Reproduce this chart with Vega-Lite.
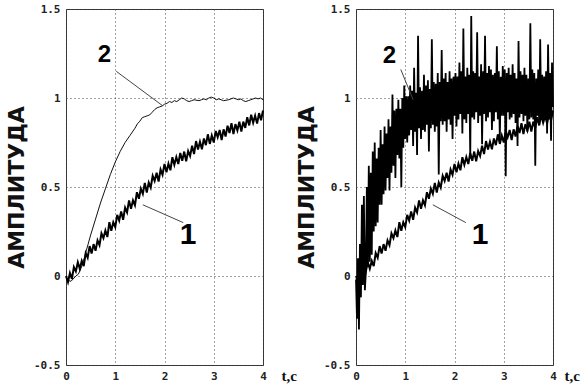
{
  "$schema": "https://vega.github.io/schema/vega-lite/v6.json",
  "background": "white",
  "padding": {"left": 5, "top": 2, "right": 0, "bottom": 0},
  "bounds": "flush",
  "spacing": 93,
  "config": {
    "view": {"stroke": "#333", "strokeWidth": 1},
    "axis": {
      "grid": true, "gridColor": "#444", "gridDash": [1, 3], "gridWidth": 1,
      "domain": false, "ticks": false,
      "labelFont": "DejaVu Sans Mono", "labelFontWeight": "bold", "labelFontSize": 11, "labelColor": "#222",
      "labelFlush": false, "labelOverlap": false
    }
  },
  "datasets": {
    "c1": [
      {"t":0.00,"v":0.000},{"t":0.04,"v":-0.034},{"t":0.08,"v":0.017},{"t":0.12,"v":-0.016},{"t":0.16,"v":0.050},
      {"t":0.20,"v":0.026},{"t":0.24,"v":0.077},{"t":0.28,"v":0.041},{"t":0.32,"v":0.085},{"t":0.36,"v":0.055},
      {"t":0.40,"v":0.129},{"t":0.44,"v":0.103},{"t":0.48,"v":0.168},{"t":0.52,"v":0.126},{"t":0.56,"v":0.179},
      {"t":0.60,"v":0.142},{"t":0.64,"v":0.200},{"t":0.68,"v":0.173},{"t":0.72,"v":0.240},{"t":0.76,"v":0.213},
      {"t":0.80,"v":0.256},{"t":0.84,"v":0.219},{"t":0.88,"v":0.302},{"t":0.92,"v":0.254},{"t":0.96,"v":0.302},
      {"t":1.00,"v":0.275},{"t":1.04,"v":0.343},{"t":1.08,"v":0.311},{"t":1.12,"v":0.363},{"t":1.16,"v":0.316},
      {"t":1.20,"v":0.384},{"t":1.24,"v":0.357},{"t":1.28,"v":0.425},{"t":1.32,"v":0.377},{"t":1.36,"v":0.425},
      {"t":1.40,"v":0.398},{"t":1.44,"v":0.471},{"t":1.48,"v":0.434},{"t":1.52,"v":0.491},{"t":1.56,"v":0.462},
      {"t":1.60,"v":0.523},{"t":1.64,"v":0.469},{"t":1.68,"v":0.525},{"t":1.72,"v":0.497},{"t":1.76,"v":0.563},
      {"t":1.80,"v":0.534},{"t":1.84,"v":0.580},{"t":1.88,"v":0.531},{"t":1.92,"v":0.598},{"t":1.96,"v":0.569},
      {"t":2.00,"v":0.630},{"t":2.04,"v":0.583},{"t":2.08,"v":0.631},{"t":2.12,"v":0.594},{"t":2.16,"v":0.667},
      {"t":2.20,"v":0.625},{"t":2.24,"v":0.668},{"t":2.28,"v":0.629},{"t":2.32,"v":0.691},{"t":2.36,"v":0.647},
      {"t":2.40,"v":0.699},{"t":2.44,"v":0.645},{"t":2.48,"v":0.702},{"t":2.52,"v":0.674},{"t":2.56,"v":0.732},
      {"t":2.60,"v":0.685},{"t":2.64,"v":0.758},{"t":2.68,"v":0.711},{"t":2.72,"v":0.754},{"t":2.76,"v":0.712},
      {"t":2.80,"v":0.773},{"t":2.84,"v":0.735},{"t":2.88,"v":0.796},{"t":2.92,"v":0.742},{"t":2.96,"v":0.789},
      {"t":3.00,"v":0.750},{"t":3.04,"v":0.815},{"t":3.08,"v":0.780},{"t":3.12,"v":0.820},{"t":3.16,"v":0.764},
      {"t":3.20,"v":0.824},{"t":3.24,"v":0.784},{"t":3.28,"v":0.844},{"t":3.32,"v":0.803},{"t":3.36,"v":0.858},
      {"t":3.40,"v":0.798},{"t":3.44,"v":0.853},{"t":3.48,"v":0.818},{"t":3.52,"v":0.867},{"t":3.56,"v":0.812},
      {"t":3.60,"v":0.867},{"t":3.64,"v":0.832},{"t":3.68,"v":0.892},{"t":3.72,"v":0.846},{"t":3.76,"v":0.906},
      {"t":3.80,"v":0.861},{"t":3.84,"v":0.901},{"t":3.88,"v":0.856},{"t":3.92,"v":0.915},{"t":3.96,"v":0.875},
      {"t":4.00,"v":0.930}
    ],
    "c2a": [
      {"t":0,"v":-0.02},{"t":0.1,"v":-0.03},{"t":0.2,"v":0.0},{"t":0.25,"v":0.01},{"t":0.3,"v":0.04},{"t":0.35,"v":0.08},
      {"t":0.4,"v":0.13},{"t":0.45,"v":0.18},{"t":0.5,"v":0.23},{"t":0.6,"v":0.32},{"t":0.7,"v":0.41},{"t":0.8,"v":0.49},
      {"t":0.9,"v":0.57},{"t":1.0,"v":0.64},{"t":1.1,"v":0.70},{"t":1.2,"v":0.75},{"t":1.3,"v":0.79},{"t":1.4,"v":0.83},
      {"t":1.45,"v":0.855},{"t":1.5,"v":0.87},{"t":1.55,"v":0.89},{"t":1.6,"v":0.895},{"t":1.65,"v":0.90},{"t":1.7,"v":0.905},
      {"t":1.75,"v":0.92},{"t":1.8,"v":0.935},{"t":1.85,"v":0.945},{"t":1.9,"v":0.95},{"t":1.95,"v":0.955},{"t":2.0,"v":0.965},
      {"t":2.05,"v":0.97},{"t":2.1,"v":0.98},{"t":2.15,"v":0.975},{"t":2.2,"v":0.985},{"t":2.25,"v":0.98},{"t":2.3,"v":0.99},
      {"t":2.35,"v":1.0},{"t":2.4,"v":0.995},{"t":2.45,"v":0.985},{"t":2.5,"v":0.98},{"t":2.55,"v":0.985},{"t":2.6,"v":0.99},
      {"t":2.7,"v":0.985},{"t":2.75,"v":0.99},{"t":2.8,"v":0.995},{"t":2.85,"v":0.99},{"t":2.9,"v":1.0},{"t":2.95,"v":1.005},
      {"t":3.0,"v":1.0},{"t":3.05,"v":0.99},{"t":3.1,"v":0.995},{"t":3.15,"v":0.99},{"t":3.2,"v":0.985},{"t":3.3,"v":0.99},
      {"t":3.35,"v":0.995},{"t":3.4,"v":1.0},{"t":3.45,"v":0.995},{"t":3.5,"v":0.99},{"t":3.55,"v":0.995},{"t":3.6,"v":0.985},
      {"t":3.65,"v":0.98},{"t":3.7,"v":0.985},{"t":3.75,"v":0.99},{"t":3.8,"v":0.995},{"t":3.85,"v":1.0},{"t":3.9,"v":0.995},
      {"t":3.95,"v":1.0},{"t":4.0,"v":0.99}
    ],
    "c2b": [
      {"t":0.00,"v":-0.02},{"t":0.02,"v":-0.24},{"t":0.04,"v":0.10},{"t":0.06,"v":-0.30},{"t":0.08,"v":0.18},
      {"t":0.10,"v":-0.12},{"t":0.12,"v":0.40},{"t":0.14,"v":-0.05},{"t":0.16,"v":0.45},{"t":0.18,"v":-0.08},
      {"t":0.20,"v":0.02},{"t":0.22,"v":0.50},{"t":0.24,"v":0.05},{"t":0.26,"v":0.62},{"t":0.28,"v":0.08},
      {"t":0.30,"v":0.58},{"t":0.32,"v":0.12},{"t":0.34,"v":0.70},{"t":0.36,"v":0.25},{"t":0.38,"v":0.75},
      {"t":0.40,"v":0.28},{"t":0.42,"v":0.66},{"t":0.44,"v":0.30},{"t":0.46,"v":0.72},{"t":0.48,"v":0.40},
      {"t":0.50,"v":0.82},{"t":0.52,"v":0.40},{"t":0.54,"v":0.74},{"t":0.56,"v":0.46},{"t":0.58,"v":0.84},
      {"t":0.60,"v":0.48},{"t":0.62,"v":0.80},{"t":0.64,"v":0.55},{"t":0.66,"v":0.88},{"t":0.68,"v":0.48},
      {"t":0.70,"v":0.84},{"t":0.72,"v":0.58},{"t":0.74,"v":1.02},{"t":0.76,"v":0.62},{"t":0.78,"v":0.93},
      {"t":0.80,"v":0.55},{"t":0.82,"v":0.94},{"t":0.84,"v":0.68},{"t":0.86,"v":0.99},{"t":0.88,"v":0.66},
      {"t":0.90,"v":0.94},{"t":0.92,"v":0.50},{"t":0.94,"v":1.00},{"t":0.96,"v":0.72},{"t":0.98,"v":1.07},
      {"t":1.00,"v":0.77},{"t":1.02,"v":1.01},{"t":1.04,"v":0.75},{"t":1.06,"v":1.01},{"t":1.08,"v":0.79},
      {"t":1.10,"v":1.07},{"t":1.12,"v":0.82},{"t":1.14,"v":1.04},{"t":1.16,"v":0.73},{"t":1.18,"v":1.17},
      {"t":1.20,"v":0.81},{"t":1.22,"v":1.03},{"t":1.24,"v":0.68},{"t":1.26,"v":1.35},{"t":1.28,"v":0.83},
      {"t":1.30,"v":1.06},{"t":1.32,"v":0.77},{"t":1.34,"v":1.04},{"t":1.36,"v":0.82},{"t":1.38,"v":1.13},
      {"t":1.40,"v":0.81},{"t":1.42,"v":1.07},{"t":1.44,"v":0.85},{"t":1.46,"v":1.10},{"t":1.48,"v":0.70},
      {"t":1.50,"v":1.05},{"t":1.52,"v":0.83},{"t":1.54,"v":1.33},{"t":1.56,"v":0.85},{"t":1.58,"v":1.09},
      {"t":1.60,"v":0.81},{"t":1.62,"v":1.08},{"t":1.64,"v":0.84},{"t":1.66,"v":1.14},{"t":1.68,"v":0.57},
      {"t":1.70,"v":1.09},{"t":1.72,"v":0.87},{"t":1.74,"v":1.27},{"t":1.76,"v":0.85},{"t":1.78,"v":1.11},
      {"t":1.80,"v":0.87},{"t":1.82,"v":1.14},{"t":1.84,"v":0.81},{"t":1.86,"v":1.09},{"t":1.88,"v":0.88},
      {"t":1.90,"v":1.15},{"t":1.92,"v":0.85},{"t":1.94,"v":1.11},{"t":1.96,"v":0.77},{"t":1.98,"v":1.12},
      {"t":2.00,"v":0.90},{"t":2.02,"v":1.14},{"t":2.04,"v":0.84},{"t":2.06,"v":1.12},{"t":2.08,"v":0.88},
      {"t":2.10,"v":1.20},{"t":2.12,"v":0.91},{"t":2.14,"v":1.15},{"t":2.16,"v":0.80},{"t":2.18,"v":1.39},
      {"t":2.20,"v":0.88},{"t":2.22,"v":1.12},{"t":2.24,"v":0.86},{"t":2.26,"v":1.17},{"t":2.28,"v":0.91},
      {"t":2.30,"v":1.13},{"t":2.32,"v":0.66},{"t":2.34,"v":1.46},{"t":2.36,"v":0.89},{"t":2.38,"v":1.15},
      {"t":2.40,"v":0.88},{"t":2.42,"v":1.14},{"t":2.44,"v":0.92},{"t":2.46,"v":1.37},{"t":2.48,"v":0.86},
      {"t":2.50,"v":1.12},{"t":2.52,"v":0.90},{"t":2.54,"v":1.19},{"t":2.56,"v":0.74},{"t":2.58,"v":1.15},
      {"t":2.60,"v":0.91},{"t":2.62,"v":1.35},{"t":2.64,"v":0.87},{"t":2.66,"v":1.14},{"t":2.68,"v":0.89},
      {"t":2.70,"v":1.18},{"t":2.72,"v":0.92},{"t":2.74,"v":1.16},{"t":2.76,"v":0.82},{"t":2.78,"v":1.13},
      {"t":2.80,"v":0.87},{"t":2.82,"v":1.14},{"t":2.84,"v":0.92},{"t":2.86,"v":1.29},{"t":2.88,"v":0.88},
      {"t":2.90,"v":1.15},{"t":2.92,"v":0.77},{"t":2.94,"v":1.12},{"t":2.96,"v":0.90},{"t":2.98,"v":1.18},
      {"t":3.00,"v":0.90},{"t":3.02,"v":1.16},{"t":3.04,"v":0.56},{"t":3.06,"v":1.14},{"t":3.08,"v":0.92},
      {"t":3.10,"v":1.17},{"t":3.12,"v":0.88},{"t":3.14,"v":1.13},{"t":3.16,"v":0.89},{"t":3.18,"v":1.19},
      {"t":3.20,"v":0.91},{"t":3.22,"v":1.14},{"t":3.24,"v":0.86},{"t":3.26,"v":1.11},{"t":3.28,"v":0.73},
      {"t":3.30,"v":1.32},{"t":3.32,"v":0.89},{"t":3.34,"v":1.15},{"t":3.36,"v":0.91},{"t":3.38,"v":1.13},
      {"t":3.40,"v":0.87},{"t":3.42,"v":1.17},{"t":3.44,"v":0.90},{"t":3.46,"v":1.13},{"t":3.48,"v":0.81},
      {"t":3.50,"v":1.11},{"t":3.52,"v":0.88},{"t":3.54,"v":1.42},{"t":3.56,"v":0.89},{"t":3.58,"v":1.16},
      {"t":3.60,"v":0.88},{"t":3.62,"v":1.14},{"t":3.64,"v":0.62},{"t":3.66,"v":1.11},{"t":3.68,"v":0.90},
      {"t":3.70,"v":1.16},{"t":3.72,"v":0.85},{"t":3.74,"v":1.33},{"t":3.76,"v":0.88},{"t":3.78,"v":1.13},
      {"t":3.80,"v":0.86},{"t":3.82,"v":1.12},{"t":3.84,"v":0.90},{"t":3.86,"v":1.15},{"t":3.88,"v":0.80},
      {"t":3.90,"v":1.30},{"t":3.92,"v":0.88},{"t":3.94,"v":1.14},{"t":3.96,"v":0.76},{"t":3.98,"v":1.20},
      {"t":4.00,"v":0.95}
    ]
  },
  "hconcat": [
    {
      "width": 197,
      "height": 356,
      "encoding": {
        "x": {"field": "t", "type": "quantitative", "scale": {"domain": [0, 4], "nice": false, "zero": false},
              "axis": {"values": [0, 1, 2, 3, 4], "labelExpr": "'' + datum.value", "labelPadding": 5,
                       "title": "t,c", "titleX": 215, "titleY": 10, "titleAlign": "left", "titleBaseline": "middle", "titleAngle": 0,
                       "titleFont": "Liberation Serif", "titleFontSize": 15, "titleFontWeight": "bold", "titleColor": "#111"}},
        "y": {"field": "v", "type": "quantitative", "scale": {"domain": [-0.5, 1.5], "nice": false, "zero": false},
              "axis": {"values": [-0.5, 0, 0.5, 1, 1.5], "labelExpr": "'' + datum.value", "labelPadding": 6,
                       "title": "АМПЛИТУДА", "titleFont": "DejaVu Sans", "titleFontSize": 22, "titleFontWeight": "bold",
                       "titlePadding": 5, "titleColor": "#111"}}
      },
      "layer": [
        {"data": {"name": "c2a"}, "mark": {"type": "line", "color": "#111", "strokeWidth": 1}},
        {"data": {"name": "c1"}, "mark": {"type": "line", "color": "#000", "strokeWidth": 2}},
        {"data": {"values": [{"t": 1.02, "v": 1.15, "t2": 1.97, "v2": 0.955}, {"t": 1.56, "v": 0.40, "t2": 2.38, "v2": 0.30}]},
         "mark": {"type": "rule", "color": "#444", "strokeWidth": 1},
         "encoding": {"x2": {"field": "t2"}, "y2": {"field": "v2"}}},
        {"data": {"values": [{"lab": "2", "t": 0.78, "v": 1.24}]},
         "mark": {"type": "text", "font": "Liberation Sans", "fontWeight": "bold", "fontSize": 24, "color": "#000", "align": "center", "baseline": "middle"},
         "encoding": {"text": {"field": "lab"}}},
        {"data": {"values": [{"lab": "1", "t": 2.48, "v": 0.228}]},
         "mark": {"type": "text", "font": "Liberation Sans", "fontWeight": "bold", "fontSize": 30, "color": "#000", "align": "center", "baseline": "middle"},
         "encoding": {"text": {"field": "lab"}}}
      ]
    },
    {
      "width": 197,
      "height": 356,
      "encoding": {
        "x": {"field": "t", "type": "quantitative", "scale": {"domain": [0, 4], "nice": false, "zero": false},
              "axis": {"values": [0, 1, 2, 3, 4], "labelExpr": "'' + datum.value", "labelPadding": 5,
                       "title": "t,c", "titleX": 208, "titleY": 10, "titleAlign": "left", "titleBaseline": "middle", "titleAngle": 0,
                       "titleFont": "Liberation Serif", "titleFontSize": 15, "titleFontWeight": "bold", "titleColor": "#111"}},
        "y": {"field": "v", "type": "quantitative", "scale": {"domain": [-0.5, 1.5], "nice": false, "zero": false},
              "axis": {"values": [-0.5, 0, 0.5, 1, 1.5], "labelExpr": "'' + datum.value", "labelPadding": 6,
                       "title": "АМПЛИТУДА", "titleFont": "DejaVu Sans", "titleFontSize": 22, "titleFontWeight": "bold",
                       "titlePadding": 5, "titleColor": "#111"}}
      },
      "layer": [
        {"data": {"name": "c2b"}, "mark": {"type": "line", "color": "#000", "strokeWidth": 1.8}},
        {"data": {"name": "c1"}, "mark": {"type": "line", "color": "#000", "strokeWidth": 2}},
        {"data": {"values": [{"t": 0.91, "v": 1.16, "t2": 1.16, "v2": 0.99}, {"t": 1.56, "v": 0.40, "t2": 2.23, "v2": 0.30}]},
         "mark": {"type": "rule", "color": "#444", "strokeWidth": 1},
         "encoding": {"x2": {"field": "t2"}, "y2": {"field": "v2"}}},
        {"data": {"values": [{"lab": "2", "t": 0.68, "v": 1.235}]},
         "mark": {"type": "text", "font": "Liberation Sans", "fontWeight": "bold", "fontSize": 24, "color": "#000", "align": "center", "baseline": "middle"},
         "encoding": {"text": {"field": "lab"}}},
        {"data": {"values": [{"lab": "1", "t": 2.52, "v": 0.228}]},
         "mark": {"type": "text", "font": "Liberation Sans", "fontWeight": "bold", "fontSize": 30, "color": "#000", "align": "center", "baseline": "middle"},
         "encoding": {"text": {"field": "lab"}}}
      ]
    }
  ]
}
